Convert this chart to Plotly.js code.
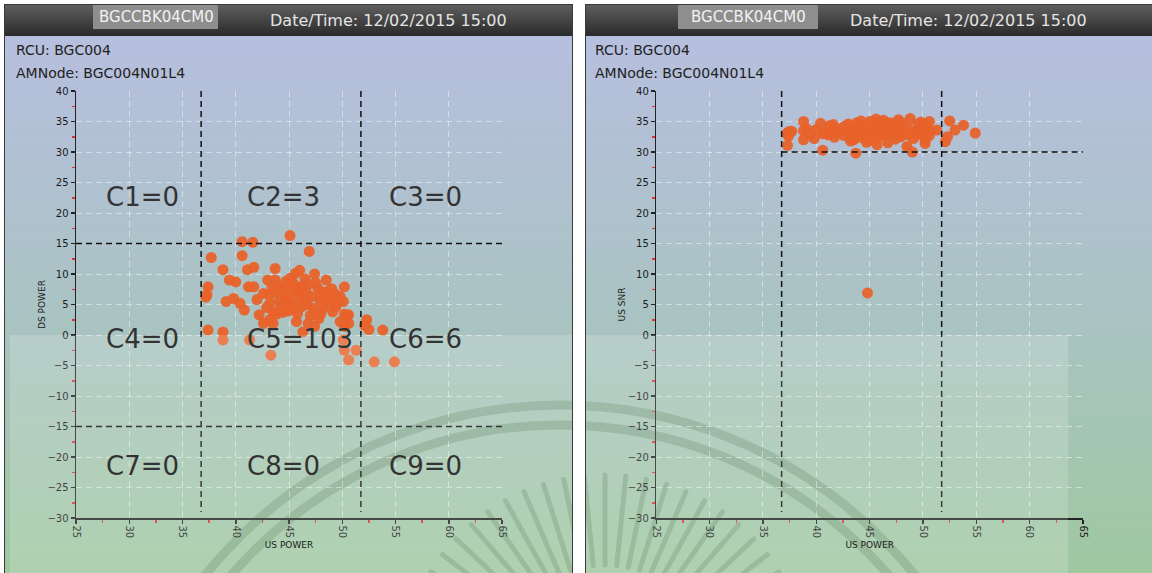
<!DOCTYPE html>
<html>
<head>
<meta charset="utf-8">
<script src="https://cdn.plot.ly/plotly-3.0.1.min.js"></script>
<style>
html,body{margin:0;padding:0;background:#fff;}
#chart{width:1152px;height:573px;}
</style>
</head>
<body>
<div id="chart"></div>
<script>
// ---------- DATA ----------
const usPower = [45.1,40.6,41.6,52.3,52.5,53.8,53.0,54.9,52.1,46.9,
37.7,40.6,38.8,41.1,41.7,43.7,45.6,47.4,46.0,39.4,
40.0,43.0,43.7,45.1,46.5,48.5,50.2,37.4,37.3,37.2,
41.2,41.7,39.1,39.8,40.4,40.8,42.6,43.2,43.8,44.3,
45.1,45.6,46.0,45.4,46.0,46.6,47.7,48.5,49.3,49.8,
47.1,47.9,48.8,49.5,50.1,43.2,44.1,44.8,45.5,46.2,
46.7,47.3,48.2,49.1,50.2,50.6,43.5,43.8,44.4,44.9,
42.2,42.6,43.2,43.5,45.7,46.8,49.8,50.2,46.3,47.4,
37.4,38.8,38.8,41.3,43.3,50.1,50.2,51.3,50.6,50.4,
50.6,44.6,45.0,44.0,46.8,47.5,48.0,46.4,44.2,42.9,
43.4,47.0,48.6,45.8,42.0,49.0,47.8,44.7,48.0,45.3,
46.2,49.4];
const dsPower = [16.3,15.3,15.2,2.5,0.9,0.8,-4.4,-4.4,1.6,13.7,
12.7,13.0,10.7,10.7,11.1,10.9,10.1,10.0,10.6,9.0,
8.7,9.0,9.0,9.3,9.2,9.0,7.9,7.9,6.6,6.2,
7.9,7.9,5.5,6.0,5.2,4.1,6.8,6.6,7.1,7.4,
7.7,7.1,6.6,8.5,7.7,7.1,7.7,7.1,6.8,6.3,
6.3,5.7,6.0,5.2,5.5,5.2,5.6,4.9,5.2,4.6,
5.0,4.4,4.4,3.8,3.4,3.3,3.8,3.4,3.7,3.9,
3.3,1.9,2.5,1.9,2.2,1.9,2.2,1.4,0.5,1.4,
0.8,0.5,-0.8,-0.8,-3.3,-0.8,-2.5,-2.5,-4.1,3.0,
1.9,6.2,6.0,8.0,8.3,8.6,6.6,5.8,4.6,4.5,
7.8,3.2,5.3,3.5,5.8,7.6,2.7,8.8,3.5,4.3,
8.0,4.6];
const usSnr = [34.2,33.0,34.5,32.5,35.1,34.4,33.6,33.1,31.7,34.8,
33.4,30.3,35.0,32.8,33.9,34.1,35.4,33.2,32.6,32.9,
33.7,34.6,29.8,33.5,34.0,30.9,31.4,33.3,31.1,33.0,
34.3,32.4,33.8,32.2,34.7,33.1,32.7,33.6,33.0,34.4,
31.9,33.2,34.9,32.3,33.7,32.8,35.3,34.1,33.4,32.9,
33.9,32.5,35.5,34.6,33.2,31.8,33.3,6.9,34.7,33.0,
31.5,34.3,33.6,32.2,34.0,33.5,32.0,34.8,33.1,32.6,
33.4,34.2,32.9,33.8,31.2,33.3,34.9,32.4,35.2,32.1,
32.6,33.5,32.0,33.2,32.6,33.9,31.9,33.6,32.7,34.3,
35.0,33.9,35.0,32.4,34.5,33.1,34.8,32.9,35.1,33.7,
32.3,33.6,32.8,34.3,33.1,30.0,34.0,31.6,33.0,33.4,
34.1,33.3];
const cellLabels = ['C1=0','C2=3','C3=0','C4=0','C5=103','C6=6','C7=0','C8=0','C9=0'];
const deviceName = 'BGCCBK04CM0';
const dateText = 'Date/Time: 12/02/2015 15:00';
const rcuText = 'RCU: BGC004';
const nodeText = 'AMNode: BGC004N01L4';
const xTitle = 'US POWER';
const yTitleLeft = 'DS POWER';
const yTitleRight = 'US SNR';

// ---------- helpers ----------
const W = 1152, H = 573;
const PX = p => p / W;
const PY = p => 1 - p / H;

// ---------- decorative background (SVG) ----------
let rays = '';
for (let i = 0; i <= 26; i++) {
  const a = Math.PI * (1.08 + i * 0.84 / 26);
  const cx = 605, cy = 680, r0 = 115, r1 = 205;
  rays += `<line x1='${(cx + r0*Math.cos(a)).toFixed(1)}' y1='${(cy + r0*Math.sin(a)).toFixed(1)}' x2='${(cx + r1*Math.cos(a)).toFixed(1)}' y2='${(cy + r1*Math.sin(a)).toFixed(1)}' stroke-width='5' stroke-linecap='round'/>`;
}
const svg = `<svg xmlns='http://www.w3.org/2000/svg' width='1152' height='573' viewBox='0 0 1152 573'>
<defs>
<linearGradient id='h' x1='0' y1='0' x2='0' y2='1'><stop offset='0' stop-color='#5e5e5e'/><stop offset='1' stop-color='#2a2a2a'/></linearGradient>
<linearGradient id='b' x1='0' y1='0' x2='0' y2='1'><stop offset='0' stop-color='#b7bfdf'/><stop offset='0.5' stop-color='#aac3c4'/><stop offset='1' stop-color='#9fc8a0'/></linearGradient>
<clipPath id='c'><rect x='5' y='36' width='567' height='537'/><rect x='586' y='36' width='566' height='537'/></clipPath>
</defs>
<rect width='1152' height='573' fill='#ffffff'/>
<rect x='4' y='4' width='569' height='569' fill='#3a3a3a'/>
<rect x='5' y='36' width='567' height='537' fill='url(#b)'/>
<rect x='5' y='5' width='567' height='31' fill='url(#h)'/>
<rect x='585' y='4' width='567' height='569' fill='#3a3a3a'/>
<rect x='586' y='36' width='566' height='537' fill='url(#b)'/>
<rect x='586' y='5' width='566' height='31' fill='url(#h)'/>
<g clip-path='url(#c)' fill='none' stroke='rgb(60,105,60)' stroke-opacity='0.26'>
<circle cx='560' cy='860' r='455' stroke-width='9'/>
<circle cx='560' cy='860' r='435' stroke-width='9'/>
${rays}
</g>
</svg>`;
const bgSrc = 'data:image/svg+xml;charset=utf-8,' + encodeURIComponent(svg);

// ---------- axes ----------
const tickFont = {family: 'DejaVu Sans', size: 10, color: '#1a1a1a'};
const titleFont = {family: 'DejaVu Sans', size: 9, color: '#1a1a1a'};
function xAxis(d0, d1, anchor) {
  return {
    domain: [PX(d0), PX(d1)], anchor: anchor, range: [25, 65], tick0: 25, dtick: 5,
    showline: true, linecolor: '#222', linewidth: 1.5, mirror: false,
    ticks: 'outside', ticklen: 4, tickcolor: '#222', tickwidth: 1.5,
    tickangle: 90, tickfont: tickFont,
    showgrid: true, gridcolor: 'rgba(255,255,255,0.45)', gridwidth: 1, griddash: '6px,4px',
    zeroline: false, fixedrange: true, automargin: false,
    minor: {tick0: 27.5, dtick: 5, ticks: 'outside', ticklen: 3, tickcolor: '#e53030', tickwidth: 1.5, showgrid: false},
    title: {text: xTitle, font: titleFont, standoff: 4}
  };
}
function yAxis(title, anchor) {
  return {
    domain: [1 - 518/H, 1 - 91/H], anchor: anchor, range: [-30, 40], tick0: -30, dtick: 5,
    showline: true, linecolor: '#222', linewidth: 1.5,
    ticks: 'outside', ticklen: 4, tickcolor: '#222', tickwidth: 1.5,
    tickfont: tickFont,
    showgrid: true, gridcolor: 'rgba(255,255,255,0.45)', gridwidth: 1, griddash: '6px,4px',
    zeroline: false, fixedrange: true, automargin: false,
    minor: {tick0: 37.5, dtick: 5, ticks: 'outside', ticklen: 3, tickcolor: '#e53030', tickwidth: 1.5, showgrid: false},
    title: {text: title, font: titleFont, standoff: 0}
  };
}

// ---------- traces ----------
const marker = {color: '#e8622a', size: 11, opacity: 0.95, line: {width: 0}};
const traces = [
  {type: 'scatter', mode: 'markers', x: usPower, y: dsPower, xaxis: 'x', yaxis: 'y', marker: marker, hoverinfo: 'x+y', showlegend: false},
  {type: 'scatter', mode: 'markers', x: usPower, y: usSnr, xaxis: 'x2', yaxis: 'y2', marker: marker, hoverinfo: 'x+y', showlegend: false}
];

// ---------- shapes ----------
const dashLine = {color: '#111', width: 1.5, dash: '6px,4px'};
const shapes = [
  {type: 'line', xref: 'x', yref: 'y', x0: 25, x1: 65, y0: 15, y1: 15, line: dashLine},
  {type: 'line', xref: 'x', yref: 'y', x0: 25, x1: 65, y0: -15, y1: -15, line: dashLine},
  {type: 'line', xref: 'x', yref: 'y', x0: 36.75, x1: 36.75, y0: 40, y1: -29, line: dashLine},
  {type: 'line', xref: 'x', yref: 'y', x0: 51.75, x1: 51.75, y0: 40, y1: -29, line: dashLine},
  {type: 'line', xref: 'x2', yref: 'y2', x0: 36.75, x1: 65, y0: 30, y1: 30, line: dashLine},
  {type: 'line', xref: 'x2', yref: 'y2', x0: 36.75, x1: 36.75, y0: 40, y1: -29, line: dashLine},
  {type: 'line', xref: 'x2', yref: 'y2', x0: 51.75, x1: 51.75, y0: 40, y1: -29, line: dashLine},
  {type: 'rect', xref: 'paper', yref: 'paper', x0: PX(10), x1: PX(572), y0: PY(573), y1: PY(335), fillcolor: 'rgba(255,255,255,0.17)', line: {width: 0}, layer: 'above'},
  {type: 'rect', xref: 'paper', yref: 'paper', x0: PX(586), x1: PX(1068), y0: PY(573), y1: PY(335), fillcolor: 'rgba(255,255,255,0.17)', line: {width: 0}, layer: 'above'},
  {type: 'rect', xref: 'paper', yref: 'paper', x0: PX(93), x1: PX(218), y0: PY(29), y1: PY(5), fillcolor: '#8e8e8e', line: {width: 0}},
  {type: 'rect', xref: 'paper', yref: 'paper', x0: PX(678), x1: PX(818), y0: PY(29), y1: PY(5), fillcolor: '#8e8e8e', line: {width: 0}}
];

// ---------- annotations ----------
const cellX = [31.2, 44.5, 57.8];
const cellY = [22.6, -0.66, -21.5];
const annotations = [];
cellLabels.forEach((t, i) => {
  const col = i % 3, row = Math.floor(i / 3);
  annotations.push({xref: 'x', yref: 'y', x: (i === 4 ? 46.0 : cellX[col]), y: cellY[row], text: t, showarrow: false,
    font: {family: 'DejaVu Sans', size: 26, color: '#333'}, xanchor: 'center', yanchor: 'middle'});
});
function headerAnn(boxCenter, dateLeft, leftText) {
  annotations.push({xref: 'paper', yref: 'paper', x: PX(boxCenter), y: PY(17), text: deviceName, showarrow: false,
    font: {family: 'DejaVu Sans', size: 15, color: '#f2f2f2'}, xanchor: 'center', yanchor: 'middle'});
  annotations.push({xref: 'paper', yref: 'paper', x: PX(dateLeft), y: PY(20), text: dateText, showarrow: false,
    font: {family: 'DejaVu Sans', size: 16, color: '#e4e4e4'}, xanchor: 'left', yanchor: 'middle'});
  annotations.push({xref: 'paper', yref: 'paper', x: PX(leftText), y: PY(50), text: rcuText, showarrow: false,
    font: {family: 'DejaVu Sans', size: 14, color: '#222'}, xanchor: 'left', yanchor: 'middle'});
  annotations.push({xref: 'paper', yref: 'paper', x: PX(leftText), y: PY(73), text: nodeText, showarrow: false,
    font: {family: 'DejaVu Sans', size: 14, color: '#222'}, xanchor: 'left', yanchor: 'middle'});
}
headerAnn(156, 268, 14);
headerAnn(748, 848, 593);

const layout = {
  width: W, height: H, margin: {l: 0, r: 0, t: 0, b: 0, pad: 0},
  paper_bgcolor: 'rgba(0,0,0,0)', plot_bgcolor: 'rgba(0,0,0,0)',
  showlegend: false,
  xaxis: xAxis(76, 502, 'y'),
  yaxis: yAxis(yTitleLeft, 'x'),
  xaxis2: xAxis(656.3, 1083, 'y2'),
  yaxis2: yAxis(yTitleRight, 'x2'),
  images: [{source: bgSrc, xref: 'paper', yref: 'paper', x: 0, y: 1, sizex: 1, sizey: 1,
    sizing: 'stretch', xanchor: 'left', yanchor: 'top', layer: 'below'}],
  shapes: shapes,
  annotations: annotations
};

Plotly.newPlot('chart', traces, layout, {displayModeBar: false, staticPlot: true});
</script>
</body>
</html>
